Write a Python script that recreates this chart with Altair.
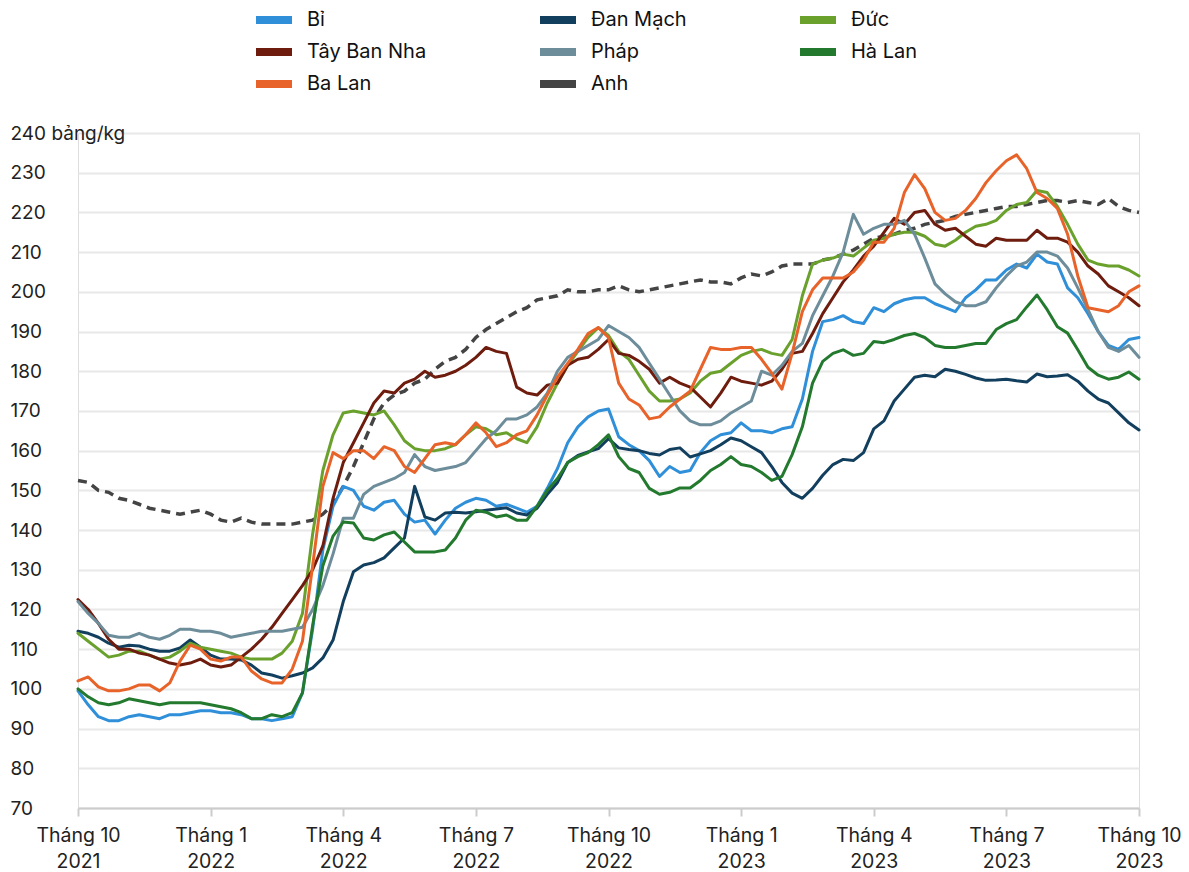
import altair as alt
import pandas as pd

# ---- data (weekly, Oct 2021 -> Oct 2023), GBP pence per kg ----
series_names = ["Bỉ", "Đan Mạch", "Đức", "Tây Ban Nha", "Pháp", "Hà Lan", "Ba Lan", "Anh"]
series_colors = ["#2f8fd8", "#133f5f", "#6aa12d", "#6e1c0e", "#6d8d9b", "#237a2e", "#e8632a", "#444444"]

bi = [99.5, 96, 93, 92, 92, 93, 93.5, 93, 92.5, 93.5, 93.5, 94, 94.5, 94.5, 94, 94, 93.5, 92.5, 92.5, 92,
      92.5, 93, 99, 115, 135, 146, 151, 150, 146, 145, 147, 147.5, 144, 142, 142.5, 139, 142.5, 145.5, 147, 148,
      147.5, 146, 146.5, 145.5, 144.5, 146, 150.5, 155.5, 162, 166, 168.5, 170, 170.5, 163.5, 161.5, 160, 157.5, 153.5, 156, 154.5,
      155, 159.5, 162.5, 164, 164.5, 167, 165, 165, 164.5, 165.5, 166, 173, 185, 192.5, 193, 194, 192.5, 192, 196, 195,
      197, 198, 198.5, 198.5, 197, 196, 195, 198.5, 200.5, 203, 203, 205.5, 207, 206, 209.5, 207.5, 207, 201, 198.5, 194.5,
      190, 186.5, 185.5, 188, 188.5]
dan_mach = [114.5, 114, 113, 111.5, 110.5, 111, 110.8, 110, 109.5, 109.5, 110.3, 112.3, 110.5, 108.5, 107.5, 107.5, 107.3, 106, 104, 103.5,
            102.7, 103.3, 104, 105.3, 107.8, 112.3, 122, 129.5, 131.2, 131.8, 133, 135.5, 138, 151, 143.3, 142.5, 144.3, 144.5, 144.3, 144.6,
            145, 145.3, 145.6, 144.3, 143.8, 145.5, 149, 152, 157, 158.8, 159.7, 160.5, 163, 160.7, 160.3, 160, 159.3, 158.9, 160.3, 160.7,
            158.4, 159.2, 160, 161.5, 163.2, 162.5, 161, 159.5, 156, 152, 149.3, 148, 150.5, 153.8, 156.5, 157.8, 157.5, 159.5, 165.5, 167.5,
            172.5, 175.5, 178.5, 179, 178.6, 180.5, 180, 179.2, 178.3, 177.7, 177.8, 178, 177.6, 177.3, 179.3, 178.6, 178.8, 179.1, 177.5, 175,
            173, 172, 169.5, 167, 165.2]
duc = [114, 112, 110, 108, 108.5, 109.5, 109.5, 108.5, 107.5, 108, 109.5, 111.5, 110.5, 110, 109.5, 109, 108, 107.5, 107.5, 107.5,
       109, 112, 119, 139, 155, 164, 169.5, 170, 169.5, 169, 170, 166.5, 162.5, 160.5, 160, 160, 160.5, 161.5, 164, 166,
       165.5, 164, 164.5, 163, 162, 166, 172, 177, 181.5, 185, 188.5, 191, 189, 185, 183, 179, 175, 172.5, 172.5, 173,
       174.5, 177.5, 179.5, 180, 182, 184, 185, 185.5, 184.5, 184, 188, 199, 207, 208, 208.5, 209.5, 209, 211, 213, 213.5,
       214.5, 215, 215, 214, 212, 211.5, 213, 215, 216.5, 217, 218, 220.5, 222, 222.5, 225.5, 225, 221.5, 217, 212, 208,
       207, 206.5, 206.5, 205.5, 204]
tay_ban_nha = [122.5, 120, 116.5, 112.5, 110, 110, 109, 108.5, 107.5, 106.5, 106, 106.5, 107.5, 106, 105.5, 106, 108, 110, 112.5, 115.5,
               119, 122.5, 126, 130, 136, 148, 157, 162, 167, 172, 175, 174.5, 177, 178, 180, 178.5, 179, 180, 181.5, 183.5,
               186, 185, 184.5, 176, 174.5, 174, 176.5, 177, 181.5, 183, 183.5, 185.5, 188, 184.5, 184, 182.5, 180.5, 177, 178.5, 177,
               176, 173.5, 171, 174.5, 178.5, 177.5, 177, 176.5, 177.5, 180.5, 184.5, 185, 189.5, 194.5, 198.5, 202.5, 205.5, 209, 211.5, 215,
               218.5, 217, 220, 220.5, 217, 215.5, 216, 214, 212, 211.5, 213.5, 213, 213, 213, 215.5, 213.5, 213.5, 212.5, 210, 206.5,
               204.5, 201.5, 200, 198.5, 196.5]
phap = [122, 119, 116.5, 113.5, 113, 113, 114, 113, 112.5, 113.5, 115, 115, 114.5, 114.5, 114, 113, 113.5, 114, 114.5, 114.5,
        114.5, 115, 115.5, 120, 126, 134, 143, 143, 149, 151, 152, 153, 154.5, 159, 156, 155, 155.5, 156, 157, 160,
        163, 165, 168, 168, 169, 171, 174.5, 180, 183.5, 185, 186.5, 188, 191.5, 190, 188.5, 186, 182, 178, 174, 170,
        167.5, 166.5, 166.5, 167.5, 169.5, 171, 172.5, 180, 179, 181.5, 185, 187, 194, 199, 204, 210, 219.5, 214.5, 216, 217,
        217, 218, 214.5, 208.5, 202, 199.5, 197.5, 196.5, 196.5, 197.5, 201, 204, 206.5, 207.5, 210, 210, 209, 206, 201, 195.5,
        190, 186, 185, 186.5, 183.5]
ha_lan = [100, 98, 96.5, 96, 96.5, 97.5, 97, 96.5, 96, 96.5, 96.5, 96.5, 96.5, 96, 95.5, 95, 94, 92.5, 92.5, 93.5,
          93, 94, 99, 116, 131, 138.5, 142, 141.8, 138, 137.5, 138.8, 139.5, 137, 134.5, 134.5, 134.5, 135, 138, 142.5, 145,
          144.5, 143.3, 143.8, 142.5, 142.5, 146, 150, 153, 157, 158.5, 159.5, 161.5, 164, 158.5, 155.5, 154.5, 150.5, 149, 149.5, 150.6,
          150.6, 152.5, 155, 156.5, 158.5, 156.5, 156, 154.5, 152.5, 153.5, 159, 166, 177, 182.5, 184.5, 185.4, 184, 184.5, 187.5, 187.2,
          188, 189, 189.5, 188.5, 186.5, 186, 186, 186.5, 187, 187, 190.5, 192, 193, 196.2, 199.2, 195.5, 191.2, 189.6, 185.4, 181,
          179, 178, 178.5, 179.8, 178]
ba_lan = [102, 103, 100.5, 99.5, 99.5, 100, 101, 101, 99.5, 101.5, 107, 111, 110, 107.5, 107, 108, 108, 104.5, 102.5, 101.5,
          101.5, 105, 112, 131, 151, 159.5, 158, 160, 160, 158, 161, 160, 156, 154.5, 158, 161.5, 162, 161.5, 164, 167,
          164.5, 161, 162, 164, 165, 169, 174, 178.5, 182, 185.5, 189.5, 191, 188.5, 177, 173, 171.5, 168, 168.5, 171, 173,
          175, 180.5, 186, 185.5, 185.5, 186, 186, 183, 179.5, 175.5, 184.5, 195, 200.5, 203.5, 203.5, 203.5, 205, 208, 212.5, 212.5,
          216, 225, 229.5, 226, 220, 218, 218.5, 220.5, 223.5, 227.5, 230.5, 233, 234.5, 231, 225, 223.5, 221, 214.5, 204, 196,
          195.5, 195, 196.5, 200, 201.5]
anh = [152.5, 152, 150, 149.5, 148, 147.5, 146.5, 145.5, 145, 144.5, 144, 144.5, 145, 144, 142.5, 142, 143, 142, 141.5, 141.5,
       141.5, 141.5, 142, 142.5, 144, 146.5, 151, 156, 162, 168, 172, 174, 175, 177, 178, 180.5, 182.5, 183.5, 185.5, 188.5,
       190.5, 192, 193.5, 195, 196, 198, 198.5, 199, 200.5, 200, 200, 200.5, 200.5, 201.5, 200.5, 200, 200.5, 201, 201.5, 202,
       202.5, 203, 202.5, 202.5, 202, 203.5, 204.5, 204, 205, 206.5, 207, 207, 207, 208, 208.5, 209.5, 210.5, 212, 213.5, 214,
       214.5, 215.5, 216, 217, 217.5, 218, 219, 219.5, 220, 220.5, 221, 221.5, 221.5, 222, 222.5, 223, 223, 222.5, 223, 222.5,
       222, 223.5, 221.5, 220.5, 220]

tick_weeks = [0, 13, 26, 39, 52, 65, 78, 91, 104]
tick_months = ["Tháng 10", "Tháng 1", "Tháng 4", "Tháng 7", "Tháng 10", "Tháng 1", "Tháng 4", "Tháng 7", "Tháng 10"]
tick_years = ["2021", "2022", "2022", "2022", "2022", "2023", "2023", "2023", "2023"]
y_ticks = list(range(70, 241, 10))
unit_label = "bảng/kg"

all_series = [bi, dan_mach, duc, tay_ban_nha, phap, ha_lan, ba_lan, anh]
rows = []
for name, vals in zip(series_names, all_series):
    for w, v in enumerate(vals):
        rows.append({"week": w, "country": name, "value": v})
df = pd.DataFrame(rows)

FONT = "Inter"

x_label_expr = " : ".join(
    [f"datum.value == {w} ? ['{m}', '{y}']" for w, m, y in zip(tick_weeks, tick_months, tick_years)]
) + " : ''"
y_label_expr = f"datum.value == {max(y_ticks)} ? datum.label + ' {unit_label}' : datum.label"

x_enc = alt.X(
    "week:Q",
    scale=alt.Scale(domain=[0, 104], nice=False, zero=False),
    axis=alt.Axis(
        values=tick_weeks, labelExpr=x_label_expr, title=None, grid=False,
        domainColor="#cccccc", domainWidth=2, tickColor="#cccccc", tickWidth=2, tickSize=8,
        labelFont=FONT, labelFontSize=19.5, labelColor="#222222", labelPadding=10,
        labelLineHeight=26, labelFlush=False, labelOverlap=False,
    ),
)
y_enc = alt.Y(
    "value:Q",
    scale=alt.Scale(domain=[70, 240], nice=False, zero=False),
    axis=alt.Axis(
        values=y_ticks, labelExpr=y_label_expr, title=None, domain=False, ticks=False,
        labelAlign="left", labelPadding=68, labelBaseline="middle",
        labelFont=FONT, labelFontSize=19, labelColor="#222222",
        gridColor="#e8e8e8", gridWidth=2, labelFlush=False, labelOverlap=False,
    ),
)
color_enc = alt.Color(
    "country:N",
    scale=alt.Scale(domain=series_names, range=series_colors),
    sort=series_names,
    legend=alt.Legend(
        title=None, orient="none", legendX=183, legendY=-126, columns=3, direction="horizontal",
        symbolType="M-2,0H2", symbolSize=324, symbolStrokeWidth=8,
        labelFont=FONT, labelFontSize=20, labelColor="#111111", labelOffset=20,
        columnPadding=97, rowPadding=0, gridAlign="each", symbolOpacity=1,
    ),
)

base = alt.Chart(df)
solid = base.transform_filter(alt.datum.country != "Anh").mark_line(
    strokeWidth=3, strokeJoin="round", strokeCap="round"
).encode(x=x_enc, y=y_enc, color=color_enc, detail="country:N")
dashed = base.transform_filter(alt.datum.country == "Anh").mark_line(
    strokeWidth=3.5, strokeDash=[9, 6]
).encode(x=x_enc, y=y_enc, color=color_enc)

chart = alt.layer(dashed, solid).properties(
    width=1061, height=675,
    autosize=alt.AutoSizeParams(type="none"),
    padding={"left": 70, "top": 125, "right": 42, "bottom": 64},
).configure_view(stroke=None).configure(background="white")

chart.save("out.html", embed_options={"renderer": "svg", "actions": False})
